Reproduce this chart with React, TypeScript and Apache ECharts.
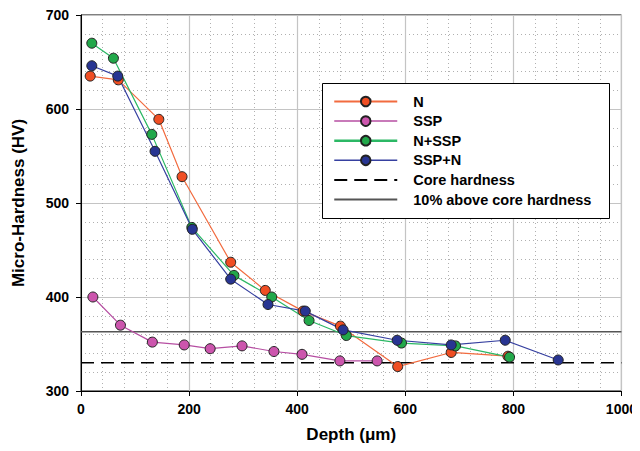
import React, { useEffect, useRef } from "react";
import * as echarts from "echarts";

const nDepth = [17, 69, 144, 187, 277, 341, 411, 480, 586, 685, 790];
const nHardness = [635, 631, 589, 528, 437, 407, 385, 369, 326, 341, 337];

const sspDepth = [22, 73, 132, 191, 239, 298, 357, 409, 479, 548];
const sspHardness = [400, 370, 352, 349, 345, 348, 342, 339, 332, 332];

const nSspDepth = [20, 60, 131, 205, 283, 353, 422, 491, 593, 693, 793];
const nSspHardness = [670, 654, 573, 474, 423, 400, 375, 359, 351, 348, 336];

const sspNDepth = [20, 68, 137, 206, 277, 346, 415, 485, 585, 685, 785, 883];
const sspNHardness = [646, 635, 555, 472, 419, 392, 385, 365, 354, 349, 354, 333];

const coreHardness = 330;
const aboveCoreHardness = 363;
const xRange = [0, 1000];

const zip = (xs: number[], ys: number[]) => xs.map((x, i) => [x, ys[i]]);

const FONT = "'Liberation Sans', Arial, sans-serif";

export default function App() {
  const ref = useRef<HTMLDivElement>(null);
  useEffect(() => {
    if (!ref.current) return;
    const chart = echarts.init(ref.current, undefined, { renderer: "svg" });
    const markerSeries = (
      name: string,
      xs: number[],
      ys: number[],
      line: string,
      fill: string
    ) => ({
      name,
      type: "line",
      data: zip(xs, ys),
      symbol: "circle",
      symbolSize: 10,
      lineStyle: { color: line, width: 1.2 },
      itemStyle: { color: fill, borderColor: "#222", borderWidth: 1 },
      z: 3,
    });
    const hidden = { color: "transparent", borderColor: "transparent", opacity: 0 };
    chart.setOption({
      animation: false,
      backgroundColor: "#fff",
      textStyle: { fontFamily: FONT },
      grid: {
        left: 81,
        right: 18,
        top: 15,
        bottom: 60,
        show: true,
        borderColor: "#000",
        borderWidth: 1,
      },
      xAxis: {
        type: "value",
        min: 0,
        max: 1000,
        interval: 200,
        name: "Depth (\u03bcm)",
        nameLocation: "middle",
        nameGap: 35,
        nameTextStyle: { fontSize: 17, fontWeight: "bold", color: "#000", fontFamily: FONT },
        axisLine: { lineStyle: { color: "#000", width: 1 } },
        axisTick: { show: true, length: 5, lineStyle: { color: "#000" } },
        axisLabel: {
          fontSize: 14,
          fontWeight: "bold",
          color: "#000",
          margin: 11,
          fontFamily: FONT,
          formatter: (v: number) => String(v),
        },
        splitLine: { show: true, lineStyle: { color: "#c4c4c4", width: 1.2 } },
        minorTick: { show: false, splitNumber: 5 },
        minorSplitLine: { show: true, lineStyle: { color: "#b0b0b0", type: [1, 3], width: 1 } },
      },
      yAxis: {
        type: "value",
        min: 300,
        max: 700,
        interval: 100,
        name: "Micro-Hardness (HV)",
        nameLocation: "middle",
        nameGap: 54,
        nameTextStyle: { fontSize: 17, fontWeight: "bold", color: "#000", fontFamily: FONT },
        axisLine: { show: true, lineStyle: { color: "#000", width: 1 } },
        axisTick: { show: true, length: 5, lineStyle: { color: "#000" } },
        axisLabel: { fontSize: 14, fontWeight: "bold", color: "#000", margin: 12, fontFamily: FONT },
        splitLine: { show: true, lineStyle: { color: "#c4c4c4", width: 1.2 } },
        minorTick: { show: false, splitNumber: 5 },
        minorSplitLine: { show: true, lineStyle: { color: "#b0b0b0", type: [1, 3], width: 1 } },
      },
      legend: {
        orient: "vertical",
        left: 328,
        top: 89,
        z: 10,
        itemWidth: 63,
        itemHeight: 12,
        itemGap: 4.6,
        textStyle: {
          fontSize: 14.5,
          fontWeight: "bold",
          color: "#000",
          fontFamily: FONT,
          padding: [0, 0, 0, 11],
        },
        data: [
          { name: "N", lineStyle: { width: 2 } },
          { name: "SSP", lineStyle: { width: 1.5 } },
          { name: "N+SSP", lineStyle: { width: 2.5 } },
          { name: "SSP+N", lineStyle: { width: 1.5 } },
          { name: "Core hardness", itemStyle: hidden },
          { name: "10% above core hardness", itemStyle: hidden },
        ],
      },
      graphic: [
        {
          type: "rect",
          z: 5,
          shape: { x: 322.5, y: 83.5, width: 287, height: 135 },
          style: { fill: "#fff", stroke: "#000", lineWidth: 1 },
        },
      ],
      series: [
        {
          name: "Core hardness",
          type: "line",
          data: xRange.map((x) => [x, coreHardness]),
          symbol: "none",
          lineStyle: { color: "#000", width: 1.5, type: [13, 7] },
          itemStyle: hidden,
          z: 2,
        },
        {
          name: "10% above core hardness",
          type: "line",
          data: xRange.map((x) => [x, aboveCoreHardness]),
          symbol: "none",
          lineStyle: { color: "#555", width: 1.5 },
          itemStyle: hidden,
          z: 2,
        },
        markerSeries("SSP", sspDepth, sspHardness, "#b64ea2", "#cc55ad"),
        markerSeries("N", nDepth, nHardness, "#f26b3f", "#f04e23"),
        markerSeries("N+SSP", nSspDepth, nSspHardness, "#2cb865", "#22a84a"),
        markerSeries("SSP+N", sspNDepth, sspNHardness, "#3640a0", "#283592"),
      ],
    });
    return () => chart.dispose();
  }, []);
  return <div ref={ref} style={{ width: 640, height: 451, margin: -8 }} />;
}
